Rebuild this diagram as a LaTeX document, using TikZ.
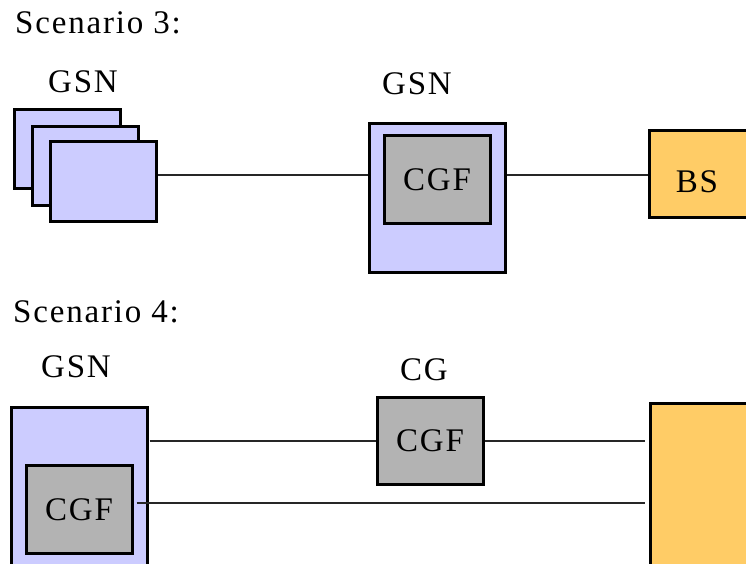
\documentclass[tikz,border=0pt]{standalone}
\usepackage{fontspec}
\setmainfont[LetterSpace=5.5]{Liberation Serif}
\definecolor{lav}{HTML}{CCCCFF}
\definecolor{cgfgray}{HTML}{B3B3B3}
\definecolor{bsorange}{HTML}{FFCC66}
\tikzset{
  box/.style={draw=black, line width=3pt, inner sep=0pt, text depth=0pt, text height=22pt, font=\fontsize{33}{36}\selectfont},
  gsnbox/.style={box, fill=lav},
  cgfbox/.style={box, fill=cgfgray},
  bsbox/.style={box, fill=bsorange},
  lbl/.style={anchor=base, inner sep=0pt, font=\fontsize{33}{36}\selectfont},
  link/.style={line width=1.3pt, draw=black!85},
}
\begin{document}
\begin{tikzpicture}[x=1pt,y=-1pt]
\clip (0,0) rectangle (746,564);
\fill[white] (0,0) rectangle (746,564);
% ---------- Scenario 3 ----------
\node[lbl, anchor=base west] (s3) at (15,34) {Scenario 3:};
\node[lbl] (gsnA) at (83,93) {GSN};
\node[lbl] (gsnB) at (417,95) {GSN};
\node[gsnbox, minimum width=106pt, minimum height=78pt] (r1) at (67,149) {};
\node[gsnbox, minimum width=106pt, minimum height=78pt] (r2) at (85,166) {};
\node[gsnbox, minimum width=106pt, minimum height=79pt] (r3) at (103,181.5) {};
\node[gsnbox, minimum width=136pt, minimum height=148pt] (g3) at (437,198) {};
\node[cgfbox, minimum width=106pt, minimum height=87pt] (c3) at (437,179.5) {CGF};
\node[bsbox, minimum width=111pt, minimum height=86pt] (bs) at (704.5,174) {};
\node[lbl] (bstext) at (697,192) {BS};
\draw[link] (r3.east |- 0,175) -- (g3.west |- 0,175);
\draw[link] (g3.east |- 0,175) -- (bs.west |- 0,175);
% ---------- Scenario 4 ----------
\node[lbl, anchor=base west] (s4) at (13,322) {Scenario 4:};
\node[lbl] (gsnC) at (76,377) {GSN};
\node[lbl] (cgl) at (424,380) {CG};
\node[gsnbox, minimum width=136pt, minimum height=193pt] (g4) at (79,503.5) {};
\node[cgfbox, minimum width=106pt, minimum height=88pt] (c4) at (79,509) {CGF};
\node[cgfbox, minimum width=106pt, minimum height=87pt] (cg) at (430,440.5) {CGF};
\node[bsbox, minimum width=110pt, minimum height=197pt] (bs4) at (705,501.5) {};
\draw[link, shorten <=1pt] (g4.east |- 0,441) -- (cg.west |- 0,441);
\draw[link, shorten >=4pt] (cg.east |- 0,441) -- (bs4.west |- 0,441);
\draw[link, shorten <=3pt, shorten >=4pt] (c4.east |- 0,503) -- (bs4.west |- 0,503);
\end{tikzpicture}
\end{document}
